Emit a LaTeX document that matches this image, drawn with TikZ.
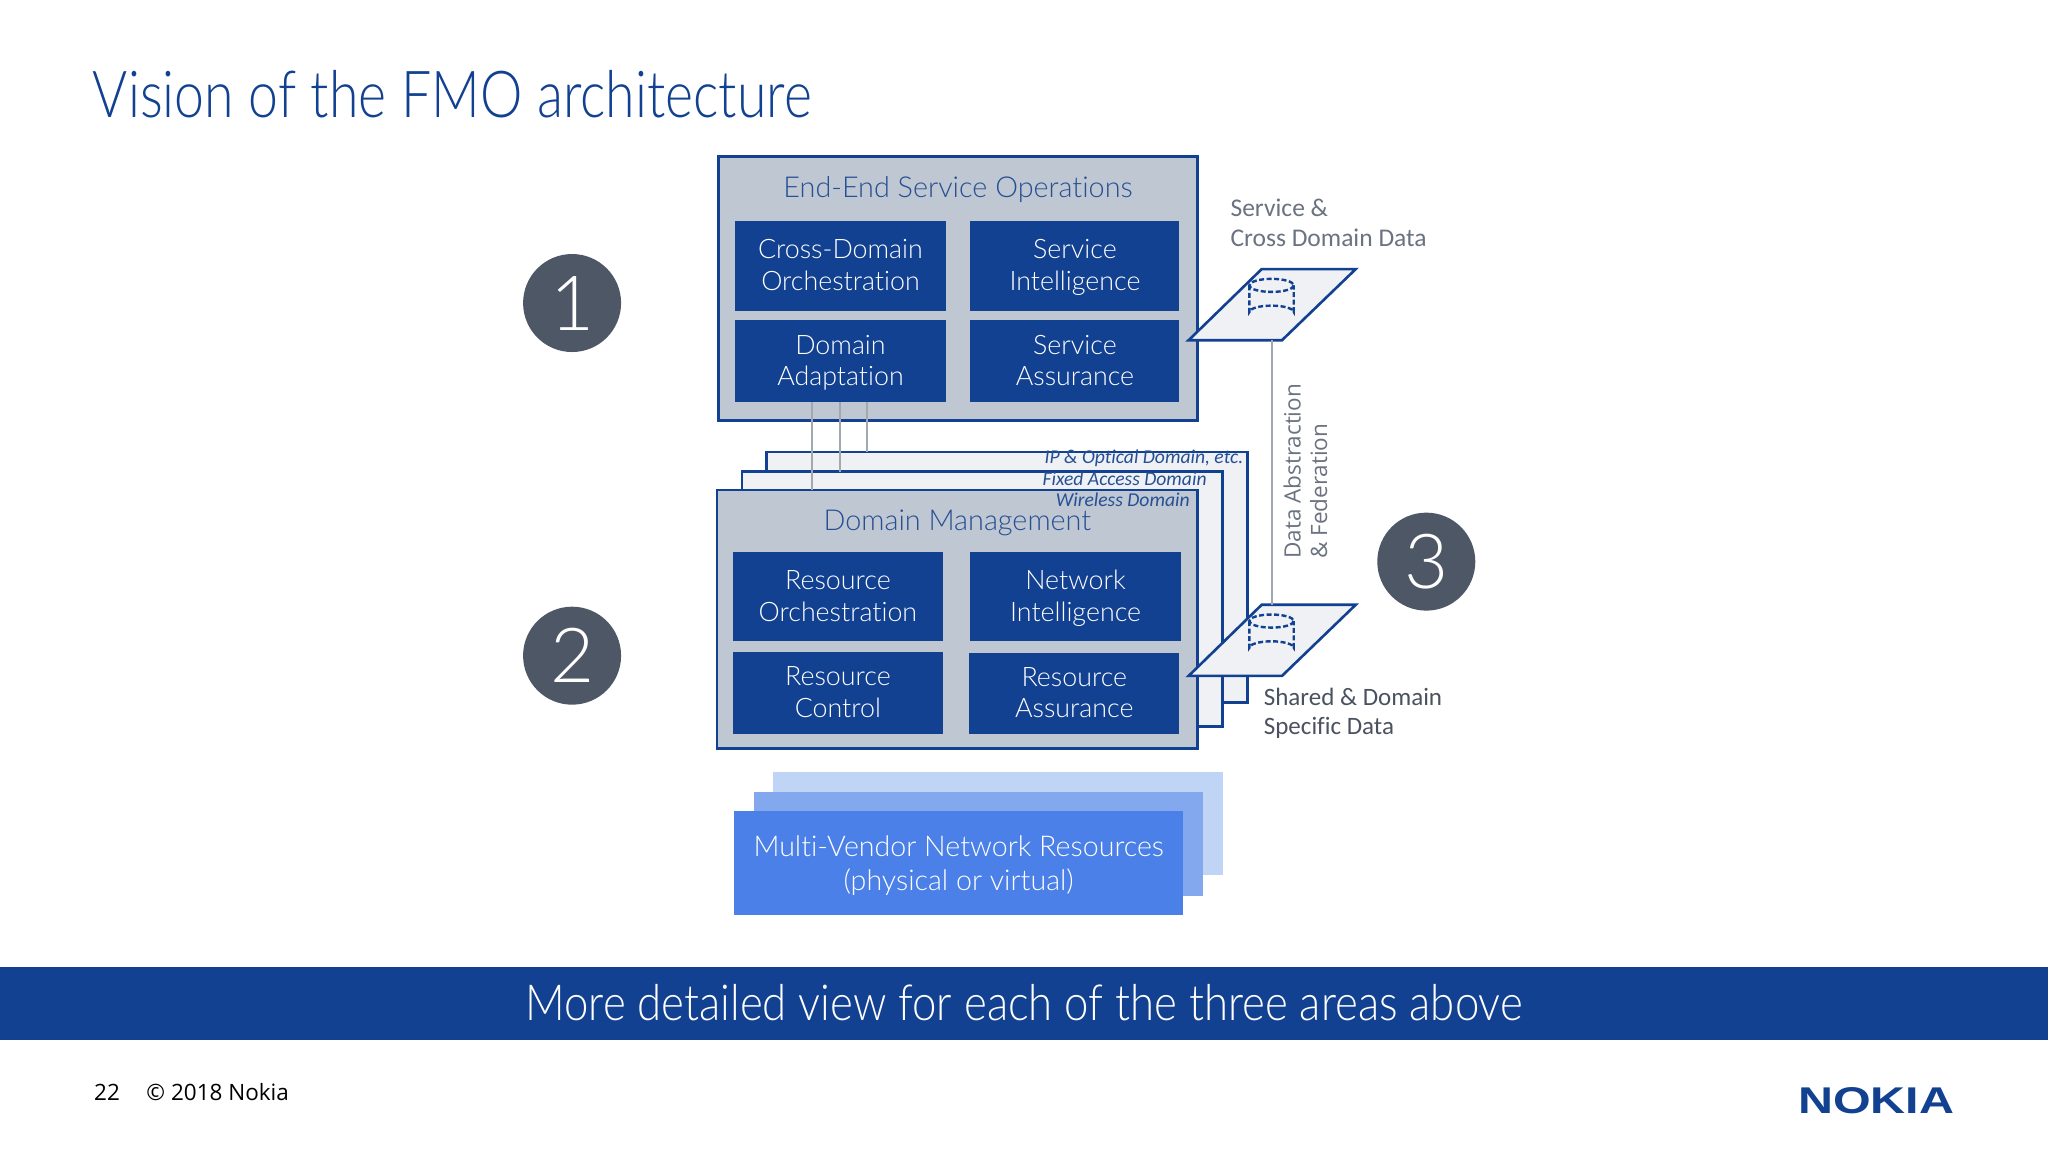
\documentclass[tikz,border=0pt]{standalone}
\usepackage{fontspec}
\setmainfont[Ligatures=NoCommon]{Carlito}
\newfontfamily\opensans{Open Sans}
\newfontfamily\logofont{Liberation Sans}
\newfontfamily\lightfont[Ligatures=NoCommon]{Lato Light}
\definecolor{navy}{HTML}{124191}
\definecolor{panel}{HTML}{BEC7D2}
\definecolor{layer}{HTML}{EFF1F5}
\definecolor{head}{HTML}{264F94}
\definecolor{greytext}{HTML}{6B7280}
\definecolor{darktext}{HTML}{4A5260}
\definecolor{disc}{HTML}{4E5766}
\definecolor{linkgrey}{HTML}{A3A8AE}
\definecolor{resA}{HTML}{4A80E8}
\definecolor{resB}{HTML}{84A8EE}
\definecolor{resC}{HTML}{C0D4F6}
\newcommand{\fsz}[1]{\fontsize{#1}{#1}\selectfont}
\newcommand{\twol}[2]{\rule{0pt}{25.4pt}#1\\[4.5pt]#2\strut}
\newcommand{\bx}[7]{\node[#1,minimum width={(#5-#3)*1.3061pt},minimum height={(#6-#4)*1.3061pt}] (#2) at ({(#3+#5)/2},{(#4+#6)/2}) {#7};}
\tikzset{
  x=1.3061pt,y=-1.3061pt,
  panelbox/.style={draw=navy,line width=2.6pt,fill=panel,inner sep=0pt,outer sep=0pt},
  layerbox/.style={draw=navy,line width=2.6pt,fill=layer,inner sep=0pt,outer sep=0pt},
  funcbox/.style={fill=navy,text=white,align=center,inner sep=0pt,outer sep=0pt,font=\lightfont\fsz{26.8}},
  resbox/.style={inner sep=0pt,outer sep=0pt},
  paneltitle/.style={text=head,font=\lightfont\fsz{28.8},inner sep=0pt},
  domaintag/.style={text=head,font=\itshape\fsz{19.6},inner sep=0pt,anchor=east},
  note/.style={text=greytext,font=\fsz{25.5},align=left,inner sep=0pt,anchor=west},
  notedark/.style={text=darktext,font=\fsz{25},align=left,inner sep=0pt,anchor=west},
  numdisc/.style={circle,fill=disc,text=white,minimum size=98pt,inner sep=0pt,font=\lightfont\fsz{76}},
  link/.style={draw=linkgrey,line width=2pt},
  plane/.style={draw=navy,line width=2.6pt,fill=layer,line join=miter},
  can/.style={draw=navy,line width=2.4pt,dash pattern=on 5pt off 2.5pt},
}
\newcommand{\dataplane}[2]{% y-top, name
  \coordinate (#2tl) at (966,#1);
  \coordinate (#2tr) at (1038,#1);
  \coordinate (#2br) at (981.5,#1+54.5);
  \coordinate (#2bl) at (910,#1+54.5);
  \coordinate (#2mt) at (974,#1);
  \coordinate (#2mb) at (974,#1+54.5);
  \draw[plane] (#2tl) -- (#2tr) -- (#2br) -- (#2bl) -- cycle;
  \draw[can] (973.5,#1+12.5) ellipse [x radius=17,y radius=5];
  \draw[can] (956.5,#1+12.5) -- (956.5,#1+33) arc [start angle=180,end angle=360,x radius=17,y radius=5] -- (990.5,#1+12.5);
}
\begin{document}
\begin{tikzpicture}
\useasboundingbox (0,0) rectangle (1568,882);
\fill[white] (0,0) rectangle (1568,882);

\node[anchor=base west,text=navy,font=\lightfont\fsz{60},inner sep=0pt] (title) at (71,90) {\scalebox{0.893}[1.08]{Vision of the FMO architecture}};

% numbered discs
\node[numdisc] (n1) at (438,232) {1};
\node[numdisc] (n2) at (438,502) {2};
\node[numdisc] (n3) at (1092,430) {3};

% layered domains (behind)
\bx{layerbox}{ipl}{587}{346}{955}{538}{}
\bx{layerbox}{fxl}{568}{361}{936}{556}{}

% top panel
\bx{panelbox}{e2e}{550}{120}{917}{322}{}
\node[paneltitle] (e2et) at (733.5,145.5) {End-End Service Operations};
\bx{funcbox}{cdo}{563}{169}{724}{238}{\twol{Cross-Domain}{Orchestration}}
\bx{funcbox}{sin}{743}{169}{903}{238}{\twol{Service}{Intelligence}}
\bx{funcbox}{dad}{563}{245}{724}{308}{\twol{Domain}{Adaptation}}
\bx{funcbox}{sas}{743}{245}{903}{308}{\twol{Service}{Assurance}}

% domain-management panel
\bx{panelbox}{dm}{549}{375}{917}{573}{}
\node[paneltitle] (dmt) at (733,400) {Domain Management};
\bx{funcbox}{ror}{561}{423}{722}{491}{\twol{Resource}{Orchestration}}
\bx{funcbox}{nin}{743}{423}{904}{491}{\twol{Network}{Intelligence}}
\bx{funcbox}{rco}{561}{499}{722}{562}{\twol{Resource}{Control}}
\bx{funcbox}{ras}{742}{500}{903}{562}{\twol{Resource}{Assurance}}

\node[domaintag] (tip) at (952,351) {IP \& Optical Domain, etc.};
\node[domaintag] (tfx) at (924,366.5) {Fixed Access Domain};
\node[domaintag] (twl) at (911,383) {Wireless Domain};

% links between panels
\draw[link] (dad.south -| 622,0) -- (dm.north -| 622,0);
\draw[link] (dad.south -| 643,0) -- (fxl.north -| 643,0);
\draw[link] (dad.south -| 664,0) -- (ipl.north -| 664,0);

% data planes
\dataplane{206}{pa}
\dataplane{463}{pb}
\draw[link] (pamb) -- (pbmt);

% data labels
\node[note] (ld1) at (942,170.5) {Service \&\\[4.5pt]Cross Domain Data};
\node[notedark] (ld2) at (967.5,546) {Shared \& Domain\\[3.5pt]Specific Data};
\node[text=greytext,font=\opensans\fsz{22.5},align=left,rotate=90,anchor=west,inner sep=0pt] (ldf) at (999.5,428) {Data Abstraction\\[4pt]\& Federation};

% resources
\bx{resbox,fill=resC}{r3}{592}{591}{936}{670}{}
\bx{resbox,fill=resB}{r2}{577}{606}{921}{686}{}
\bx{resbox,fill=resA,text=white,align=center,font=\lightfont\fsz{28.6}}{r1}{562}{621}{906}{700.5}{\rule{0pt}{29.6pt}Multi-Vendor Network Resources\\[6pt](physical or virtual)\strut}

% banner
\bx{resbox,fill=navy,text=white}{ban}{0}{740}{1568}{796}{\lightfont\fsz{46}\scalebox{0.95}[1.08]{More detailed view for each of the three areas above}}

% footer
\node[anchor=base west,text=black,font=\opensans\fsz{22.5},inner sep=0pt] (pg) at (72,842.5) {22};
\node[anchor=base west,text=black,font=\opensans\fsz{22.5},inner sep=0pt] (cp) at (112,842.5) {© 2018 Nokia};
\node[anchor=center,text=navy,inner sep=0pt] (logo) at (1436.5,843) {\resizebox{156pt}{26pt}{\logofont\bfseries NOKIA}};
\end{tikzpicture}
\end{document}
